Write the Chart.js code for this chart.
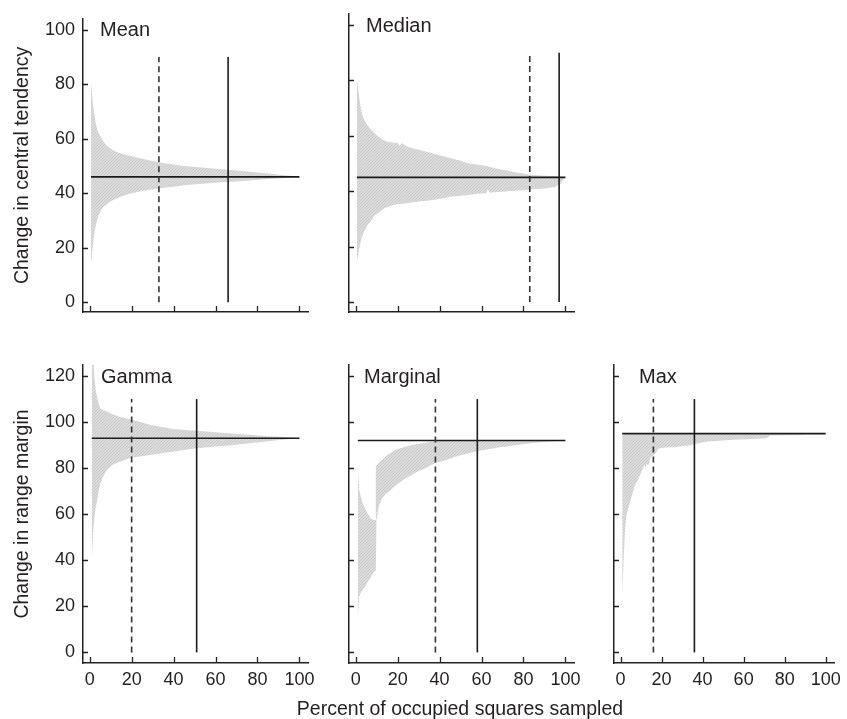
<!DOCTYPE html>
<html><head><meta charset="utf-8">
<script src="https://cdn.jsdelivr.net/npm/chart.js@4/dist/chart.umd.min.js"></script>
<style>
html,body{margin:0;padding:0;background:#fff;overflow:hidden;}
#wrap{position:relative;width:847px;height:719px;overflow:hidden;}
canvas{position:absolute;}
#xtitle{position:absolute;left:260px;width:400px;top:696px;height:24px;line-height:24px;text-align:center;
  font-family:"Liberation Sans", Arial, Helvetica, sans-serif;font-size:19.5px;color:#231f20;white-space:nowrap;}
</style></head><body>
<div id="wrap">
<canvas id="cMean" width="320" height="340" style="left:0;top:0"></canvas>
<canvas id="cMedian" width="260" height="340" style="left:330px;top:0"></canvas>
<canvas id="cGamma" width="325" height="374" style="left:0;top:345px"></canvas>
<canvas id="cMarginal" width="260" height="374" style="left:330px;top:345px"></canvas>
<canvas id="cMax" width="252" height="374" style="left:595px;top:345px"></canvas>
<div id="xtitle"></div>
</div>
<script>
// ---------- tick labels ----------
const xTicks = [0, 20, 40, 60, 80, 100];
const yTicksTop = [0, 20, 40, 60, 80, 100];
const yTicksBottom = [0, 20, 40, 60, 80, 100, 120];
const panelNames = ["Mean", "Median", "Gamma", "Marginal", "Max"];
const yTitleTop = "Change in central tendency";
const yTitleBottom = "Change in range margin";
const xTitle = "Percent of occupied squares sampled";
const vLineTopRow = 90;
const vLineBottomRow = 110;

// ---------- Mean ----------
const meanX     = [0.6, 1, 1.5, 2, 2.5, 3, 4, 5, 6.5, 8, 10, 12, 15, 19, 25, 30, 33, 40, 45, 52, 60, 66, 75, 85, 95, 100];
const meanUpper = [80.8, 77, 73, 70, 67.5, 65, 62.5, 61, 59, 57.5, 56.3, 55.4, 54.5, 53.7, 52.6, 51.8, 51.3, 50.5, 50, 49.5, 49, 48.6, 48, 47.2, 46.4, 46];
const meanLower = [14.6, 17, 21, 24, 26.5, 28.5, 31.5, 33.2, 35, 35.8, 37, 37.8, 38.8, 39.8, 40.8, 41.4, 41.8, 42.4, 42.9, 43.4, 43.8, 44.1, 44.6, 45.2, 45.7, 46];
const meanTrue = 46, meanDashed = 33, meanSolid = 66;

// ---------- Median ----------
const medX     = [0.6, 1, 1.5, 2, 3, 4, 5.5, 7, 8.5, 10.3, 13, 15, 18, 20, 21, 22, 25, 30, 35, 40, 45, 50, 53, 58, 62, 63, 64, 66, 70, 76, 80, 83, 90, 95, 97.8, 99.5];
const medUpper = [80.8, 78, 75, 72, 68, 65.8, 64, 62.5, 61.3, 60, 58.5, 57.9, 57.5, 57.4, 56.4, 57.3, 56, 55, 54, 53, 52, 51, 50.2, 49.6, 49.2, 49, 48.8, 48.4, 47.8, 46.9, 46.4, 46, 45.6, 45.4, 45.2, 45];
const medLower = [14.6, 16.5, 18.5, 20.5, 23.5, 25.5, 27.5, 29, 30.8, 32, 33.5, 34.4, 35, 35.3, 35.4, 35.5, 35.8, 36.3, 36.7, 37.2, 38, 38.4, 38.6, 39.1, 39.3, 40.6, 39.5, 39.6, 39.8, 40.2, 40.4, 40.6, 41, 41.5, 42.8, 45];
const medTrue = 45, medDashed = 83, medSolid = 97;

// ---------- Gamma ----------
const gamX     = [1, 1.3, 1.7, 2.2, 2.8, 3.5, 4.3, 5.1, 6.5, 8.3, 11, 14.6, 20, 25, 29, 35, 40, 45, 51, 60, 69, 76, 84, 92, 100];
const gamUpper = [150, 140, 128, 120, 114, 111, 108, 106, 105.2, 104.6, 103.3, 102.2, 101, 99.8, 98.8, 97.8, 97, 96.6, 96.3, 95.6, 94.9, 94.5, 94, 93.5, 93];
const gamLower = [39.4, 46, 53, 58, 62.5, 66, 70, 73.5, 76.5, 79.3, 81.5, 82.9, 84.6, 85.2, 85.8, 86.6, 87.2, 87.9, 88.7, 89.4, 90.1, 90.8, 91.6, 92.3, 93];
const gamTrue = 93, gamDashed = 20, gamSolid = 51;

// ---------- Marginal ----------
const marX     = [1, 1.6, 2.4, 3.2, 4.7, 6.3, 7.1, 8.7, 9.3, 9.6, 9.9, 11, 12.6, 14.2, 15.7, 19, 20.5, 23, 26.9, 29.3, 33.2, 34.8, 38, 42, 47.4, 57, 68.8, 84.6, 92, 100];
const marUpper = [80.7, 71, 67.7, 65, 61.9, 59.5, 58.2, 57.5, 57.5, 80.7, 81.2, 82.2, 83.5, 85, 86, 88, 88.4, 89.2, 90.1, 90.5, 91, 91.3, 91.6, 92, 92, 92, 92, 92, 92, 92];
const marLower = [14.8, 24.2, 25.8, 27, 29, 31.4, 32.5, 35, 35.3, 35.8, 57.5, 63.3, 67, 68.8, 69.8, 72.4, 73.5, 75.2, 77.1, 78.4, 80, 80.8, 82.2, 83.2, 85, 87.2, 89.1, 90.9, 91.5, 92];
const marTrue = 92, marDashed = 38, marSolid = 58;

// ---------- Max ----------
const maxX     = [0.8, 1.5, 2, 2.7, 4.4, 6.8, 9.2, 11.6, 12.3, 12.7, 13.5, 14.8, 16.3, 17, 18.7, 22, 26.7, 30, 34.6, 38, 42.5, 48, 55, 62, 71, 73, 80, 88, 90, 100];
const maxUpper = [94.6, 94.6, 94.6, 94.6, 94.6, 94.6, 94.6, 94.6, 94.6, 94.6, 94.6, 94.6, 94.6, 94.6, 94.6, 94.6, 94.6, 94.6, 94.6, 94.6, 94.6, 94.6, 94.6, 94.6, 94.6, 94.6, 94.6, 94.6, 94.6, 94.6];
const maxLower = [24.9, 40, 50.3, 59, 64.8, 72, 76.3, 81.4, 80.2, 82, 81, 85, 85.8, 86.5, 88.7, 89, 89.1, 89.6, 90.1, 90.8, 91.6, 91.9, 92.3, 92.6, 93, 94.2, 94.3, 94.4, 94.6, 94.6];
const maxTrue = 95, maxDashed = 16, maxSolid = 36;

// ---------- styling ----------
const FONT = '"Liberation Sans", Arial, Helvetica, sans-serif';
const INK = '#231f20';
Chart.defaults.font.family = FONT;
Chart.defaults.font.size = 18;
Chart.defaults.color = INK;
Chart.defaults.animation = false;

document.getElementById('xtitle').textContent = xTitle;

function hatchPattern() {
  const c = document.createElement('canvas');
  c.width = 3; c.height = 3;
  const g = c.getContext('2d');
  g.fillStyle = '#dcdcdc'; g.fillRect(0, 0, 3, 3);
  g.fillStyle = '#c9c9c9';
  g.fillRect(2, 0, 1, 1); g.fillRect(1, 1, 1, 1); g.fillRect(0, 2, 1, 1);
  return g.createPattern(c, 'repeat');
}
const HATCH = hatchPattern();

const decor = {
  id: 'decor',
  afterDraw(chart, args, o) {
    const ctx = chart.ctx, a = chart.chartArea, xs = chart.scales.x, ys = chart.scales.y;
    ctx.save();
    ctx.strokeStyle = '#222'; ctx.lineWidth = 1.3;
    ctx.beginPath();
    ys.ticks.forEach(t => { const py = Math.round(ys.getPixelForValue(t.value)) + 0.5; ctx.moveTo(a.left, py); ctx.lineTo(a.left + 5, py); });
    xs.ticks.forEach(t => { const px = Math.round(xs.getPixelForValue(t.value)) + 0.5; ctx.moveTo(px, a.bottom); ctx.lineTo(px, a.bottom - 6); });
    ctx.stroke();
    ctx.fillStyle = INK;
    ctx.font = '20px ' + FONT;
    ctx.textBaseline = 'middle'; ctx.textAlign = 'left';
    ctx.fillText(o.label, a.left + o.dx, ys.getPixelForValue(o.labelAt) + 1);
    ctx.restore();
  }
};

function pts(xs, ys) { return xs.map((x, i) => ({x: x, y: ys[i]})); }

function panel(id, p) {
  const lineCol = '#1a1a1a';
  new Chart(document.getElementById(id), {
    type: 'line',
    data: {
      datasets: [
        {data: pts(p.x, p.upper), fill: '+1', backgroundColor: HATCH, borderWidth: 0, pointRadius: 0, order: 3},
        {data: pts(p.x, p.lower), fill: false, borderWidth: 0, pointRadius: 0, order: 3},
        {data: [{x: p.x[0], y: p.trueVal}, {x: 100, y: p.trueVal}], borderColor: lineCol, borderWidth: 1.6, pointRadius: 0, fill: false, order: 2},
        {data: [{x: p.dashed, y: 0}, {x: p.dashed, y: p.vTop}], borderColor: '#333', borderWidth: 1.6, borderDash: [6, 4], pointRadius: 0, fill: false, order: 1},
        {data: [{x: p.solid, y: 0}, {x: p.solid, y: p.vTop}], borderColor: lineCol, borderWidth: 1.6, pointRadius: 0, fill: false, order: 1}
      ]
    },
    options: {
      responsive: false,
      devicePixelRatio: 1,
      layout: {padding: p.padding},
      plugins: {legend: {display: false}, tooltip: {enabled: false}, decor: {label: p.label, dx: p.dx, labelAt: p.labelAt}},
      scales: {
        x: {
          type: 'linear', min: -3.2, max: 104.1,
          afterBuildTicks: s => { s.ticks = xTicks.map(v => ({value: v})); },
          afterFit: s => { s.height = p.xHeight; },
          grid: {display: false, drawTicks: false},
          border: {display: true, color: '#222', width: 1.5},
          ticks: {display: p.xLabels, padding: 6, color: INK, font: {size: 18}}
        },
        y: {
          type: 'linear', min: p.yMin, max: p.yMax,
          afterBuildTicks: s => { s.ticks = p.yTicks.map(v => ({value: v})); },
          afterFit: s => { s.width = p.yWidth; },
          grid: {display: false, drawTicks: false},
          border: {display: true, color: '#222', width: 1.5},
          ticks: {display: p.yLabels, padding: 8, color: INK, font: {size: 18}},
          title: {display: !!p.yTitle, text: p.yTitle || '', color: INK, font: {size: 19.5}, padding: {top: 11, bottom: 0}}
        }
      }
    },
    plugins: [decor]
  });
}

const TOP = {yMin: -3.6, yMax: 104, yTicks: yTicksTop, vTop: vLineTopRow, labelAt: 100, xHeight: 28};
const BOT = {yMin: -4.6, yMax: 124.8, yTicks: yTicksBottom, vTop: vLineBottomRow, labelAt: 120, xHeight: 56};

panel('cMean', Object.assign({}, TOP, {x: meanX, upper: meanUpper, lower: meanLower, trueVal: meanTrue, dashed: meanDashed, solid: meanSolid,
  label: panelNames[0], dx: 17, yWidth: 83, yLabels: true, yTitle: yTitleTop, xLabels: false, padding: {top: 14, right: 12, left: 0, bottom: 0}}));
panel('cMedian', Object.assign({}, TOP, {x: medX, upper: medUpper, lower: medLower, trueVal: medTrue, dashed: medDashed, solid: medSolid,
  label: panelNames[1], dx: 17, yWidth: 19, yLabels: false, xLabels: false, padding: {top: 14, right: 16, left: 0, bottom: 0}}));
panel('cGamma', Object.assign({}, BOT, {x: gamX, upper: gamUpper, lower: gamLower, trueVal: gamTrue, dashed: gamDashed, solid: gamSolid,
  label: panelNames[2], dx: 18, yWidth: 83, yLabels: true, yTitle: yTitleBottom, xLabels: true, padding: {top: 20, right: 17, left: 0, bottom: 0}}));
panel('cMarginal', Object.assign({}, BOT, {x: marX, upper: marUpper, lower: marLower, trueVal: marTrue, dashed: marDashed, solid: marSolid,
  label: panelNames[3], dx: 15, yWidth: 19, yLabels: false, xLabels: true, padding: {top: 20, right: 16, left: 0, bottom: 0}}));
panel('cMax', Object.assign({}, BOT, {x: maxX, upper: maxUpper, lower: maxLower, trueVal: maxTrue, dashed: maxDashed, solid: maxSolid,
  label: panelNames[4], dx: 25, yWidth: 19, yLabels: false, xLabels: true, padding: {top: 20, right: 8, left: 0, bottom: 0}}));
</script>
</body></html>
